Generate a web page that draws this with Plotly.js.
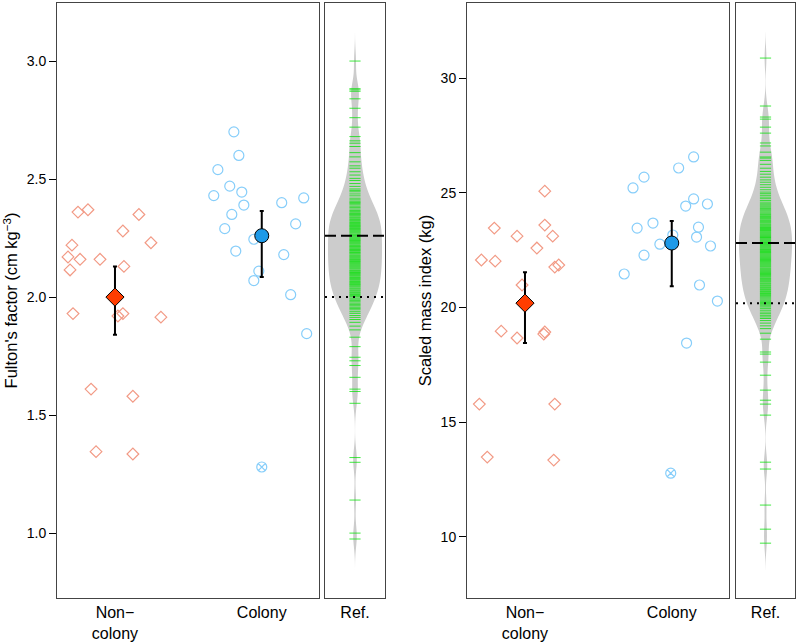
<!DOCTYPE html>
<html>
<head>
<meta charset="utf-8">
<script src="https://cdn.plot.ly/plotly-3.0.1.min.js"></script>
<style>
  html, body { margin: 0; padding: 0; background: #fff; }
  #myDiv { width: 798px; height: 642px; }
</style>
</head>
<body>
<div id="myDiv"></div>
<script>
// category positions and labels
var catX = [1, 2];
var catLabels = ['Non\u2212<br>colony', 'Colony'];

// Fulton's factor: individual fish (x = jittered position)
var fultonNonX = [0.748, 0.816, 1.163, 1.054, 0.707, 1.245, 0.680, 0.762, 0.898, 0.694,
                  1.061, 0.714, 1.020, 1.054, 1.313, 0.837, 1.122, 0.871, 1.122];
var fultonNonY = [2.36, 2.37, 2.35, 2.28, 2.22, 2.23, 2.17, 2.16, 2.16, 2.115,
                  2.13, 1.93, 1.92, 1.93, 1.915, 1.61, 1.58, 1.345, 1.335];
var fultonColX = [1.810, 1.844, 1.701, 1.782, 1.673, 1.864, 1.878, 1.796, 2.136, 2.286,
                  1.748, 2.231, 1.946, 1.823, 2.150, 1.980, 1.946, 2.197, 2.306];
var fultonColY = [2.70, 2.60, 2.54, 2.47, 2.43, 2.445, 2.39, 2.35, 2.40, 2.42,
                  2.29, 2.31, 2.245, 2.195, 2.18, 2.11, 2.07, 2.01, 1.845];
var fultonOutX = [2.0];
var fultonOutY = [1.28];
var fultonMean = [2.00, 2.26];
var fultonUpper = [2.13, 2.365];
var fultonLower = [1.84, 2.085];

// Scaled mass index
var smiNonX = [1.135, 0.791, 1.135, 0.946, 1.189, 1.081, 0.703, 0.797, 1.203, 1.230,
               0.980, 0.838, 0.946, 1.128, 1.135, 0.689, 1.203, 0.743, 1.196];
var smiNonY = [25.07, 23.46, 23.59, 23.11, 23.11, 22.59, 22.07, 22.02, 21.76, 21.85,
               20.98, 18.97, 18.67, 18.84, 18.93, 15.79, 15.79, 13.48, 13.35];
var smiColX = [2.149, 2.047, 1.811, 1.736, 2.149, 2.095, 2.243, 1.872, 1.764, 2.182,
               2.169, 2.007, 1.919, 2.264, 1.811, 1.676, 2.189, 2.311, 2.101];
var smiColY = [26.56, 26.08, 25.68, 25.21, 24.73, 24.42, 24.51, 23.68, 23.46, 23.50,
               23.07, 23.16, 22.76, 22.68, 22.28, 21.46, 20.98, 20.28, 18.45];
var smiOutX = [1.993];
var smiOutY = [12.78];
var smiMean = [20.19, 22.81];
var smiUpper = [21.54, 23.77];
var smiLower = [18.45, 20.93];

var refFulton = [
  3.00, 2.883, 2.878, 2.872, 2.84, 2.80, 2.76, 2.72, 2.68, 2.662, 2.652,
  2.638, 2.612,
  2.594, 2.573, 2.556,
  2.546, 2.531, 2.517, 2.503,
  2.494, 2.481, 2.469, 2.458, 2.452,
  2.446, 2.437, 2.429, 2.419, 2.412, 2.406, 2.401,
  2.397, 2.391, 2.385, 2.379, 2.373, 2.367, 2.362, 2.357, 2.353, 2.351,
  2.347, 2.343, 2.338, 2.334, 2.329, 2.325, 2.321, 2.316, 2.312, 2.308, 2.304, 2.301,
  2.298, 2.294, 2.290, 2.287, 2.283, 2.279, 2.275, 2.271, 2.266, 2.262, 2.259, 2.255, 2.251,
  2.247, 2.243, 2.240, 2.236, 2.232, 2.228, 2.224, 2.219, 2.215, 2.212, 2.208, 2.204, 2.201,
  2.197, 2.194, 2.189, 2.186, 2.182, 2.177, 2.173, 2.169, 2.165, 2.161, 2.158, 2.154, 2.151,
  2.147, 2.143, 2.139, 2.135, 2.131, 2.127, 2.123, 2.119, 2.114, 2.111, 2.107, 2.104, 2.100,
  2.096, 2.092, 2.088, 2.083, 2.079, 2.075, 2.071, 2.066, 2.062, 2.058, 2.054, 2.051,
  2.047, 2.043, 2.038, 2.034, 2.029, 2.025, 2.020, 2.016, 2.011, 2.007, 2.002,
  1.996, 1.991, 1.985, 1.980, 1.974, 1.968, 1.963, 1.957, 1.952,
  1.946, 1.938, 1.931, 1.922, 1.914, 1.905,
  1.893, 1.877, 1.861,
  1.83, 1.79, 1.745, 1.73, 1.71, 1.66, 1.61, 1.60, 1.55, 1.32, 1.30, 1.14, 1.00, 0.975
];
var refSmi = [
  30.87, 28.78, 28.30, 28.21, 27.86, 27.60, 27.17, 27.04, 26.77,
  26.56, 26.51,
  26.41, 26.24, 26.07,
  25.93, 25.81, 25.68, 25.56,
  25.46, 25.35, 25.24, 25.13, 25.03,
  24.96, 24.89, 24.81, 24.74, 24.66, 24.59, 24.52,
  24.47, 24.42, 24.37, 24.31, 24.26, 24.21, 24.16, 24.11, 24.06, 24.02,
  23.97, 23.93, 23.89, 23.85, 23.80, 23.76, 23.72, 23.68, 23.63, 23.59, 23.55, 23.51,
  23.48, 23.44, 23.40, 23.36, 23.33, 23.29, 23.25, 23.21, 23.17, 23.13, 23.09, 23.05, 23.02,
  22.98, 22.94, 22.90, 22.86, 22.83, 22.79, 22.75, 22.71, 22.67, 22.63, 22.59, 22.55, 22.52,
  22.48, 22.44, 22.40, 22.37, 22.33, 22.29, 22.25, 22.21, 22.17, 22.13, 22.09, 22.05, 22.01,
  21.97, 21.93, 21.89, 21.85, 21.81, 21.77, 21.72, 21.68, 21.64, 21.60, 21.56, 21.52,
  21.48, 21.44, 21.40, 21.36, 21.32, 21.27, 21.23, 21.19, 21.15, 21.11, 21.06, 21.02,
  20.97, 20.93, 20.88, 20.84, 20.79, 20.75, 20.70, 20.66, 20.61, 20.57, 20.52,
  20.47, 20.42, 20.37, 20.32, 20.27, 20.22, 20.17, 20.12, 20.07, 20.02,
  19.95, 19.88, 19.80, 19.73, 19.66, 19.59, 19.52,
  19.43, 19.32, 19.20, 19.08,
  18.88,
  18.62, 18.06, 17.97, 17.62, 17.05, 16.40, 15.96, 15.79, 15.31, 13.26, 12.96, 11.39, 10.34, 9.73
];

var colNon = '#f29a85';
var colCol = '#87cefa';
var colNonMean = '#ff3d00';
var colColMean = '#1e9ae8';
var rugCol = 'rgba(0,225,0,0.75)';
var font = 'Liberation Sans, Arial, sans-serif';

function panelTraces(xa, ya, xr, yr, nonX, nonY, colX, colY, outX, outY, mean, upper, lower,
                     ref, span, bw) {
  return [{
    type: 'scatter', mode: 'markers', x: nonX, y: nonY, xaxis: xa, yaxis: ya,
    marker: { symbol: 'diamond-open', size: 9, color: colNon, line: { width: 1.2 } }
  }, {
    type: 'scatter', mode: 'markers', x: colX, y: colY, xaxis: xa, yaxis: ya,
    marker: { symbol: 'circle-open', size: 10, color: colCol, line: { width: 1.2 } }
  }, {
    type: 'scatter', mode: 'markers', x: outX, y: outY, xaxis: xa, yaxis: ya,
    marker: { symbol: 'circle-x-open', size: 10, color: colCol, line: { width: 1.2 } }
  }, {
    type: 'scatter', mode: 'markers', x: catX, y: mean, xaxis: xa, yaxis: ya,
    error_y: {
      type: 'data', symmetric: false,
      array: upper.map(function (u, i) { return u - mean[i]; }),
      arrayminus: lower.map(function (l, i) { return mean[i] - l; }),
      color: '#000', thickness: 2, width: 2
    },
    marker: {
      symbol: ['diamond', 'circle'], size: 14, opacity: 1,
      color: [colNonMean, colColMean], line: { color: '#000', width: 1 }
    }
  }, {
    type: 'violin', y: ref, x0: 0, xaxis: xr, yaxis: yr, width: 0.9,
    fillcolor: '#cccccc', line: { width: 0, color: '#cccccc' },
    bandwidth: bw, spanmode: 'manual', span: span,
    points: 'all', jitter: 0, pointpos: 0,
    marker: { symbol: 'line-ew', size: 8, color: rugCol, line: { color: rugCol, width: 1 } },
    hoveron: 'points'
  }, {
    type: 'scatter', mode: 'lines', x: [-0.5, 0.5], y: [mean[1], mean[1]], xaxis: xr, yaxis: yr,
    line: { color: '#000', width: 2, dash: '11px,5px' }
  }, {
    type: 'scatter', mode: 'lines', x: [-0.5, 0.5], y: [mean[0], mean[0]], xaxis: xr, yaxis: yr,
    line: { color: '#000', width: 2, dash: '2px,5px' }
  }];
}

var traces = [].concat(
  panelTraces('x', 'y', 'x2', 'y2', fultonNonX, fultonNonY, fultonColX, fultonColY,
              fultonOutX, fultonOutY, fultonMean, fultonUpper, fultonLower,
              refFulton, [0.84, 3.12], 0.045),
  panelTraces('x3', 'y3', 'x4', 'y4', smiNonX, smiNonY, smiColX, smiColY,
              smiOutX, smiOutY, smiMean, smiUpper, smiLower,
              refSmi, [8.55, 32.0], 0.45)
);

var yDom = [1 - 598 / 642, 1 - 3 / 642];
var box = { showline: true, mirror: true, linecolor: '#444', linewidth: 1,
            showgrid: false, zeroline: false };

function catAxis(dom, anchor) {
  return Object.assign({}, box, {
    domain: dom, anchor: anchor, range: [0.605, 2.39],
    tickvals: catX, ticktext: catLabels, ticks: '', tickfont: { size: 16 }
  });
}
function refAxis(dom, anchor) {
  return Object.assign({}, box, {
    domain: dom, anchor: anchor, range: [-0.5, 0.5],
    tickvals: [0], ticktext: ['Ref.'], ticks: '', tickfont: { size: 16 }
  });
}
function valAxis(anchor, range, dtick, fmt, title) {
  return Object.assign({}, box, {
    domain: yDom, anchor: anchor, range: range, dtick: dtick, tick0: 0, tickformat: fmt,
    ticks: 'outside', ticklen: 7, tickcolor: '#000', tickfont: { size: 14 },
    title: { text: title, font: { size: 16.5 }, standoff: 4 }
  });
}
function hiddenY(anchor, range) {
  return Object.assign({}, box, {
    domain: yDom, anchor: anchor, range: range, showticklabels: false, ticks: ''
  });
}

var fRange = [0.725, 3.246];
var sRange = [7.34, 33.27];

Plotly.newPlot('myDiv', traces, {
  width: 798, height: 642,
  margin: { l: 0, r: 0, t: 0, b: 0 },
  paper_bgcolor: '#fff', plot_bgcolor: '#fff',
  showlegend: false,
  font: { family: font, color: '#000' },
  xaxis: catAxis([57 / 798, 319 / 798], 'y'),
  yaxis: valAxis('x', fRange, 0.5, '.1f', 'Fulton\'s factor (cm kg<sup>\u22123</sup>)'),
  xaxis2: refAxis([325 / 798, 385 / 798], 'y2'),
  yaxis2: hiddenY('x2', fRange),
  xaxis3: catAxis([467 / 798, 729 / 798], 'y3'),
  yaxis3: valAxis('x3', sRange, 5, 'd', 'Scaled mass index (kg)'),
  xaxis4: refAxis([736 / 798, 795 / 798], 'y4'),
  yaxis4: hiddenY('x4', sRange)
}, { displayModeBar: false });
</script>
</body>
</html>
